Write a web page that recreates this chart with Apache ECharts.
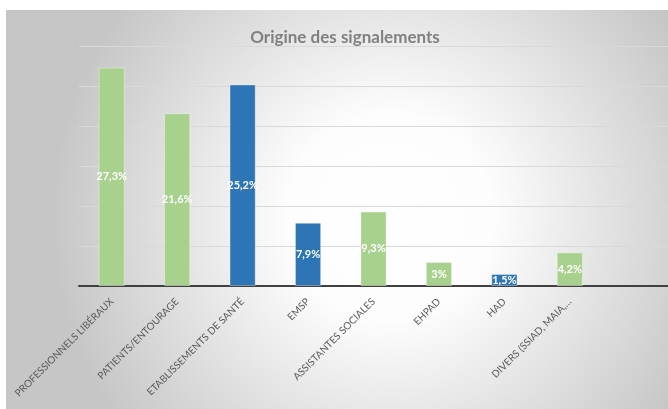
<!DOCTYPE html>
<html>
<head>
<meta charset="utf-8">
<script src="https://cdn.jsdelivr.net/npm/echarts@6/dist/echarts.min.js"></script>
<style>
html,body{margin:0;padding:0;background:#fff;}
#c{width:668px;height:409px;}
</style>
</head>
<body>
<div id="c"></div>
<script>
const categories = ['PROFESSIONNELS LIBÉRAUX','PATIENTS/ENTOURAGE','ETABLISSEMENTS DE SANTÉ','EMSP','ASSISTANTES SOCIALES','EHPAD','HAD','DIVERS (SSIAD, MAIA,…'];
const values = [27.3, 21.6, 25.2, 7.9, 9.3, 3, 1.5, 4.2];
const blueCategories = ['ETABLISSEMENTS DE SANTÉ','EMSP','HAD'];
const titleText = 'Origine des signalements';

const GREEN = '#a9d18e', BLUE = '#2e75b6';
const chart = echarts.init(document.getElementById('c'));
chart.setOption({
  animation: false,
  backgroundColor: '#ffffff',
  graphic: [{
    type: 'rect', z: -10, silent: true,
    shape: {x: 6, y: 10, width: 662, height: 399},
    style: {
      fill: new echarts.graphic.RadialGradient(0.58, 0.52, 0.85, [
        {offset: 0, color: '#ffffff'},
        {offset: 0.3, color: '#fdfdfd'},
        {offset: 1, color: '#c6c6c6'}
      ])
    }
  }],
  title: {
    text: titleText, left: 340, top: 24, textAlign: 'center',
    textStyle: {fontFamily: 'Lato', fontWeight: 'bold', fontSize: 17, color: '#808080'}
  },
  grid: {left: 79, top: 46, width: 592, bottom: 123, containLabel: false},
  xAxis: {
    type: 'category',
    data: categories.concat(['']),
    axisLine: {lineStyle: {color: '#404040', width: 2}},
    axisTick: {show: false},
    axisLabel: {rotate: 45, margin: 14, interval: 0, fontFamily: 'Lato', fontSize: 10, color: '#595959'}
  },
  yAxis: {
    type: 'value', min: 0, max: 30, interval: 5,
    axisLabel: {show: false}, axisLine: {show: false}, axisTick: {show: false},
    splitLine: {lineStyle: {color: '#d9d9d9', width: 1}}
  },
  series: [{
    type: 'bar',
    data: values,
    barWidth: '40%',
    itemStyle: {
      color: p => blueCategories.includes(p.name) ? BLUE : GREEN,
      borderColor: 'rgba(255,255,255,0.35)', borderWidth: 1
    },
    label: {
      show: true, position: 'inside', color: '#ffffff', fontFamily: 'Lato', fontWeight: 'bold', fontSize: 11,
      formatter: p => String(p.value).replace('.', ',') + '%'
    }
  }]
});
</script>
</body>
</html>
